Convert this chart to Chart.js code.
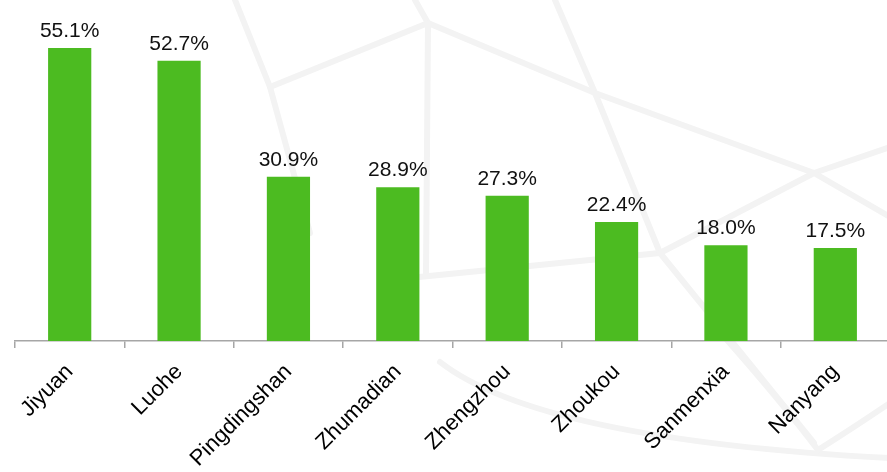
<!DOCTYPE html>
<html lang="en">
<head>
    <meta charset="UTF-8">
    <title>Henan cities</title>
    <script src="https://cdn.jsdelivr.net/npm/chart.js"></script>
    <style>
        body { margin: 0; overflow: hidden; background: #fff; }
    </style>
</head>
<body>
    <canvas id="cityChart" width="890" height="472"></canvas>

    <script>
        const cities = ['Jiyuan', 'Luohe', 'Pingdingshan', 'Zhumadian', 'Zhengzhou', 'Zhoukou', 'Sanmenxia', 'Nanyang'];
        const shares = [55.1, 52.7, 30.9, 28.9, 27.3, 22.4, 18.0, 17.5];

        Chart.defaults.font.family = "'Liberation Sans', Arial, sans-serif";

        // faint globe lines behind the bars
        const globeLines = [
            [235, 0, 270, 87], [270, 87, 428, 23], [428, 23, 415, 0], [428, 23, 426, 273],
            [428, 23, 595, 93], [555, 0, 595, 93], [595, 93, 660, 253], [595, 93, 814, 173],
            [814, 173, 890, 147], [814, 173, 890, 217], [419, 277, 660, 253], [660, 253, 814, 173],
            [660, 253, 814, 443], [270, 87, 310, 233]
        ];

        const backdrop = {
            id: 'backdrop',
            beforeDraw(chart) {
                const ctx = chart.ctx;
                ctx.save();
                ctx.strokeStyle = '#f3f3f3';
                ctx.lineWidth = 6;
                ctx.lineCap = 'round';
                globeLines.forEach(l => {
                    ctx.beginPath();
                    ctx.moveTo(l[0], l[1]);
                    ctx.lineTo(l[2], l[3]);
                    ctx.stroke();
                });
                // lower arcs
                ctx.beginPath();
                ctx.moveTo(440, 362);
                ctx.quadraticCurveTo(540, 440, 890, 458);
                ctx.stroke();
                ctx.beginPath();
                ctx.moveTo(890, 403);
                ctx.quadraticCurveTo(850, 430, 818, 450);
                ctx.stroke();
                ctx.beginPath();
                ctx.moveTo(727, 340);
                ctx.quadraticCurveTo(780, 400, 818, 450);
                ctx.stroke();
                ctx.restore();
            }
        };

        const valueLabels = {
            id: 'valueLabels',
            afterDatasetsDraw(chart) {
                const ctx = chart.ctx;
                const meta = chart.getDatasetMeta(0);
                ctx.save();
                ctx.font = "21px 'Liberation Sans', Arial, sans-serif";
                ctx.fillStyle = '#111';
                ctx.textAlign = 'center';
                ctx.textBaseline = 'alphabetic';
                meta.data.forEach((bar, i) => {
                    ctx.fillText(shares[i].toFixed(1) + '%', bar.x, bar.y - 11);
                });
                ctx.restore();
            }
        };

        new Chart(document.getElementById('cityChart'), {
            type: 'bar',
            data: {
                labels: cities,
                datasets: [{
                    data: shares,
                    backgroundColor: '#4cbb21',
                    barPercentage: 0.395,
                    categoryPercentage: 1.0
                }]
            },
            options: {
                responsive: false,
                animation: false,
                layout: { padding: { left: 15, right: 0, top: 22, bottom: 0 } },
                plugins: {
                    legend: { display: false },
                    tooltip: { enabled: false }
                },
                scales: {
                    y: {
                        display: false,
                        min: 0,
                        max: 60
                    },
                    x: {
                        afterFit(scale) { scale.height = 131; },
                        border: { color: '#a6a6a6', width: 1.5 },
                        grid: {
                            offset: true,
                            drawOnChartArea: false,
                            color: '#a6a6a6',
                            lineWidth: 1.5,
                            tickLength: 7
                        },
                        ticks: {
                            autoSkip: false,
                            minRotation: 45,
                            maxRotation: 45,
                            padding: 11,
                            color: '#000',
                            font: { size: 22 }
                        }
                    }
                }
            },
            plugins: [backdrop, valueLabels]
        });
    </script>
</body>
</html>
